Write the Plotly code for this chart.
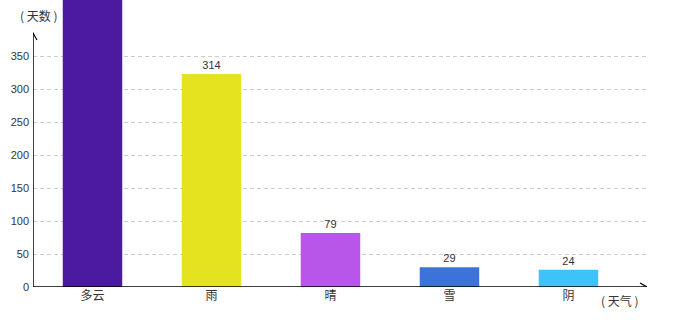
import plotly.graph_objects as go

weather = ["多云", "雨", "晴", "雪", "阴"]
days = [480, 323, 82, 30, 26]          # bar heights as drawn
day_labels = ["", "314", "79", "29", "24"]  # value labels as printed
colors = ["#4B1B9F", "#E5E21F", "#B856E9", "#3B73D9", "#3DC3F5"]
y_ticks = [0, 50, 100, 150, 200, 250, 300, 350]

FONT = "Liberation Sans, Noto Sans CJK SC, sans-serif"
CJK = "Noto Sans CJK SC"

fig = go.Figure(go.Bar(
    x=list(range(len(weather))), y=days, width=0.5,
    marker=dict(color=colors, line=dict(width=0)),
    text=day_labels, textposition="outside",
    textfont=dict(size=11, color="#333", family=FONT),
    cliponaxis=True,
))

x_end = 4.66
y_end = 385

fig.update_layout(
    width=680, height=320,
    margin=dict(l=33, r=33, t=0, b=33),
    paper_bgcolor="white", plot_bgcolor="white",
    showlegend=False,
    xaxis=dict(range=[-0.5, x_end], tickvals=list(range(len(weather))), ticktext=weather,
               showgrid=False, showline=False, zeroline=False, ticks="",
               tickfont=dict(size=12, color="#333", family=CJK)),
    yaxis=dict(range=[0, 435], tickvals=y_ticks, showline=False, zeroline=False,
               showgrid=True, gridcolor="#cccccc", griddash="4px,3px", gridwidth=1,
               ticks="", ticklabelstandoff=3,
               tickfont=dict(size=11, color="#333", family=FONT)),
    shapes=[
        dict(type="line", xref="x", yref="y", x0=-0.5, x1=x_end, y0=0, y1=0,
             line=dict(color="black", width=1.5)),
        dict(type="line", xref="x", yref="y", x0=-0.5, x1=-0.5, y0=0, y1=y_end,
             line=dict(color="black", width=1.5)),
        dict(type="path", xref="x", yref="y", xsizemode="pixel", ysizemode="pixel",
             xanchor=x_end, yanchor=0, path="M -7,4 L 0,0 L -7,-4",
             line=dict(color="black", width=1.2)),
        dict(type="path", xref="x", yref="y", xsizemode="pixel", ysizemode="pixel",
             xanchor=-0.5, yanchor=y_end, path="M -4,-7 L 0,0 L 4,-7",
             line=dict(color="black", width=1.2)),
    ],
    annotations=[
        dict(text="( 天数 )", xref="paper", yref="paper", x=0.0098, y=1.0, yshift=-15,
             xanchor="center", yanchor="middle", showarrow=False,
             font=dict(size=12, color="#333", family=CJK)),
        dict(text="( 天气 )", xref="paper", yref="paper", x=0.956, y=0, yshift=-13,
             xanchor="center", yanchor="middle", showarrow=False,
             font=dict(size=12, color="#333", family=CJK)),
    ],
)

fig.write_html("out.html")
